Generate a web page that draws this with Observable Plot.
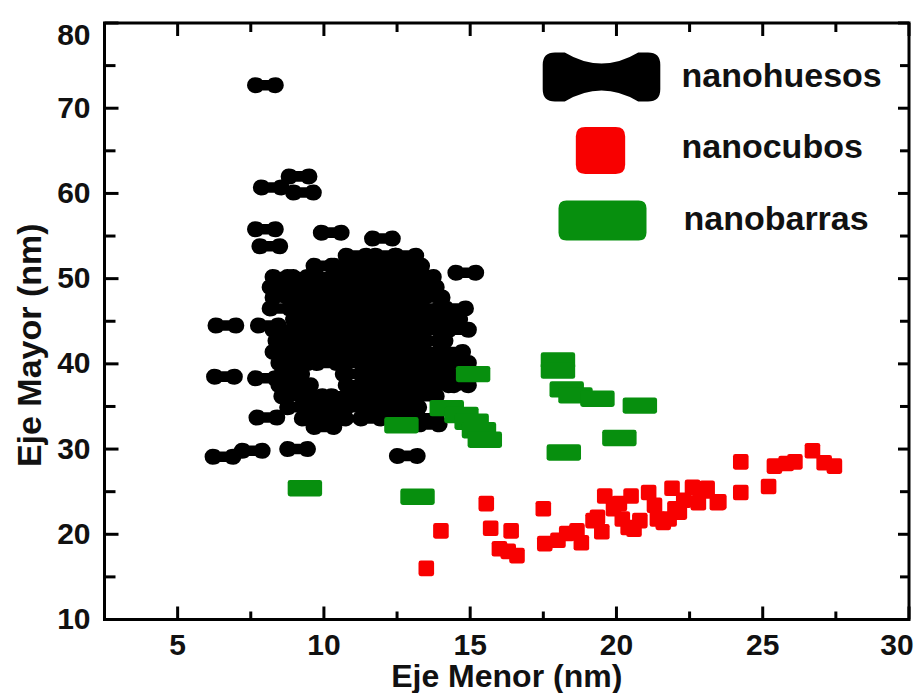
<!DOCTYPE html>
<html>
<head>
<meta charset="utf-8">
<script src="https://cdn.jsdelivr.net/npm/d3@7"></script>
<script src="https://cdn.jsdelivr.net/npm/@observablehq/plot@0.6"></script>
<style>
  html, body { margin: 0; padding: 0; background: #fff; }
  #chart { width: 914px; height: 693px; }
</style>
</head>
<body>
<div id="chart"></div>
<script>
// ---- Data ----
const xLabel = "Eje Menor (nm)";
const yLabel = "Eje Mayor (nm)";
const xMajorTicks = [5, 10, 15, 20, 25, 30];
const xMinorTicks = [7.5, 12.5, 17.5, 22.5, 27.5];
const yMajorTicks = [10, 20, 30, 40, 50, 60, 70, 80];
const yMinorTicks = [15, 25, 35, 45, 55, 65, 75];
const seriesNames = ["nanohuesos", "nanocubos", "nanobarras"];

// nanohuesos (black bones): [eje menor, eje mayor]
const nanohuesos = [
  [8.0, 72.7], [9.15, 62.0], [8.2, 60.7], [9.3, 60.1],
  [8.0, 55.8], [8.15, 53.8], [10.25, 55.4], [12.0, 54.7], [14.85, 50.7],
  [6.65, 44.5], [8.1, 44.5], [6.6, 38.5], [8.0, 38.3], [8.05, 33.7],
  [6.55, 29.1], [7.55, 29.8], [9.1, 30.0], [12.85, 29.2],
  // dense cluster
  [11.1, 52.7], [12.1, 52.7], [12.8, 52.7],
  [10.0, 51.5], [10.6, 51.5], [11.6, 51.5], [12.6, 51.5], [13.0, 51.5],
  [8.6, 50.2], [9.1, 50.2], [10.1, 50.2], [11.1, 50.2], [12.1, 50.2], [13.1, 50.2], [13.4, 50.2],
  [8.5, 49.0], [9.6, 49.0], [10.6, 49.0], [11.6, 49.0], [12.6, 49.0], [13.5, 49.0],
  [8.6, 47.8], [9.1, 47.8], [10.1, 47.8], [11.1, 47.8], [12.1, 47.8], [13.1, 47.8], [13.7, 47.8],
  [8.5, 46.5], [9.6, 46.5], [10.6, 46.5], [11.6, 46.5], [12.6, 46.5], [13.6, 46.5], [14.5, 46.5],
  [9.3, 45.2], [10.1, 45.2], [11.1, 45.2], [12.1, 45.2], [13.1, 45.2], [14.1, 45.2], [14.3, 45.2],
  [8.6, 44.0], [9.6, 44.0], [10.6, 44.0], [11.6, 44.0], [12.6, 44.0], [13.6, 44.0], [14.6, 44.0],
  [8.7, 42.7], [9.1, 42.7], [10.1, 42.7], [11.1, 42.7], [12.1, 42.7], [13.1, 42.7], [13.8, 42.7],
  [8.6, 41.4], [9.6, 41.4], [10.6, 41.4], [11.6, 41.4], [12.6, 41.4], [13.6, 41.4], [14.4, 41.4],
  [8.8, 40.1], [9.1, 40.1], [10.1, 40.1], [11.1, 40.1], [12.1, 40.1], [13.1, 40.1], [14.1, 40.1], [14.6, 40.1],
  [8.9, 38.8], [11.0, 38.8], [11.6, 38.8], [12.6, 38.8], [13.6, 38.8], [14.6, 38.8],
  [8.8, 37.5], [9.2, 37.5], [11.1, 37.5], [12.1, 37.5], [13.1, 37.5], [14.1, 37.5], [14.6, 37.5],
  [8.9, 36.2], [9.6, 36.2], [10.6, 36.2], [11.6, 36.2], [12.6, 36.2], [13.5, 36.2],
  [9.1, 34.9], [10.1, 34.9], [11.1, 34.9], [12.1, 34.9], [12.9, 34.9],
  [9.6, 33.6], [10.4, 33.6], [11.6, 33.6], [12.6, 33.6], [13.5, 33.6],
  [10.0, 32.6], [13.6, 32.9]
];

// nanocubos (red squares)
const nanocubos = [
  [13.5, 16.0], [14.0, 20.4], [15.55, 23.6], [17.5, 23.0],
  [15.7, 20.7], [16.4, 20.4], [16.0, 18.3], [16.3, 18.0], [16.6, 17.5],
  [17.55, 18.9], [18.0, 19.3], [18.3, 20.1], [18.65, 20.4], [18.8, 19.0], [19.2, 21.6],
  [19.35, 22.0], [19.6, 24.5], [19.5, 20.3], [20.1, 23.6], [20.4, 20.8], [20.5, 24.5],
  [21.1, 24.9], [21.4, 21.8], [21.9, 25.4], [22.0, 23.0], [20.8, 21.6], [21.3, 23.4],
  [21.6, 21.4], [20.2, 21.8], [19.9, 23.0], [22.3, 24.0], [22.6, 25.5], [22.8, 23.7],
  [23.1, 25.4], [23.45, 23.7], [21.8, 21.8], [22.15, 22.6], [20.6, 20.6], [23.0, 25.1],
  [23.5, 23.8], [24.25, 24.9], [24.25, 28.5], [25.2, 25.6], [25.4, 28.0], [25.8, 28.3],
  [26.1, 28.5], [26.7, 29.8], [27.1, 28.4], [27.45, 28.0]
];

// nanobarras (green rods)
const nanobarras = [
  [9.35, 25.4], [13.2, 24.4], [12.65, 32.8], [14.2, 34.8], [14.7, 34.0], [15.05, 33.2],
  [15.3, 32.2], [15.5, 31.1], [15.1, 38.8], [18.0, 40.4], [18.0, 39.2], [18.3, 37.0],
  [18.6, 36.3], [19.35, 35.9], [20.8, 35.1], [20.1, 31.3], [18.2, 29.6]
];

// ---- Custom symbols ----
function roundRectSymbol(aspect, cornerFrac) {
  return {
    draw(ctx, size) {
      const h = Math.sqrt(size / Math.PI), w = h * aspect, c = h * cornerFrac;
      ctx.moveTo(-w + c, -h);
      ctx.lineTo(w - c, -h);
      ctx.quadraticCurveTo(w, -h, w, -h + c);
      ctx.lineTo(w, h - c);
      ctx.quadraticCurveTo(w, h, w - c, h);
      ctx.lineTo(-w + c, h);
      ctx.quadraticCurveTo(-w, h, -w, h - c);
      ctx.lineTo(-w, -h + c);
      ctx.quadraticCurveTo(-w, -h, -w + c, -h);
      ctx.closePath();
    }
  };
}
function boneSymbol(aspect, dip) {
  return {
    draw(ctx, size) {
      const h = Math.sqrt(size / Math.PI), w = h * aspect, c = 0.5 * h, e = 0.9 * h, cy = h * dip;
      ctx.moveTo(-w + c, -h);
      ctx.lineTo(-w + e, -h);
      ctx.quadraticCurveTo(0, -cy, w - e, -h);
      ctx.lineTo(w - c, -h);
      ctx.quadraticCurveTo(w, -h, w, -h + c);
      ctx.lineTo(w, h - c);
      ctx.quadraticCurveTo(w, h, w - c, h);
      ctx.lineTo(w - e, h);
      ctx.quadraticCurveTo(0, cy, -w + e, h);
      ctx.lineTo(-w + c, h);
      ctx.quadraticCurveTo(-w, h, -w, h - c);
      ctx.lineTo(-w, -h + c);
      ctx.quadraticCurveTo(-w, -h, -w + c, -h);
      ctx.closePath();
    }
  };
}
function dumbbellSymbol(aspect, bar) {
  return {
    draw(ctx, size) {
      const h = Math.sqrt(size / Math.PI), w = h * aspect, b = h * bar;
      const xl = -w + h, xr = w - h;
      ctx.moveTo(xl, -h);
      ctx.quadraticCurveTo(xl + 0.7 * h, -h, xl + 0.9 * h, -b);
      ctx.lineTo(xr - 0.9 * h, -b);
      ctx.quadraticCurveTo(xr - 0.7 * h, -h, xr, -h);
      ctx.arc(xr, 0, h, -Math.PI / 2, Math.PI / 2);
      ctx.quadraticCurveTo(xr - 0.7 * h, h, xr - 0.9 * h, b);
      ctx.lineTo(xl + 0.9 * h, b);
      ctx.quadraticCurveTo(xl + 0.7 * h, h, xl, h);
      ctx.arc(xl, 0, h, Math.PI / 2, 3 * Math.PI / 2);
      ctx.closePath();
    }
  };
}
// filled tick-mark symbol: a rectangle from (x1,y1) to (x2,y2) relative to the anchor point
function tickSymbol(x1, y1, x2, y2) {
  return {
    draw(ctx) {
      ctx.moveTo(x1, y1); ctx.lineTo(x2, y1); ctx.lineTo(x2, y2); ctx.lineTo(x1, y2); ctx.closePath();
    }
  };
}

const colors = {nanohuesos: "#000000", nanocubos: "#f80000", nanobarras: "#078f0e"};
const boneData = dumbbellSymbol(2.3, 0.66);
const boneLegend = boneSymbol(2.4, 0.1);
const cube = roundRectSymbol(1.0, 0.3);
const cubeLegend = roundRectSymbol(1.05, 0.4);
const rod = roundRectSymbol(2.1, 0.3);
const rodLegend = roundRectSymbol(2.2, 0.4);

// ---- Layout ----
const W = 914, H = 693;
const mL = 104, mR = 5.5, mT = 22.5, mB = 74;
const font = "'Liberation Sans', Arial, Helvetica, sans-serif";

const tickFont = {fontSize: 30, fontWeight: "bold", fill: "#111"};
const tk = (data, channel, anchor, sym) =>
  Plot.dot(data, {[channel]: d => d, frameAnchor: anchor, symbol: sym, r: 1, fill: "#000", stroke: "none"});

const chart = Plot.plot({
  width: W, height: H,
  marginLeft: mL, marginRight: mR, marginTop: mT, marginBottom: mB,
  x: {domain: [2.5, 30], axis: null},
  y: {domain: [10, 80], axis: null},
  style: {fontFamily: font, background: "#fff", overflow: "visible"},
  marks: [
    // data
    Plot.dot(nanohuesos, {x: d => d[0], y: d => d[1], symbol: boneData, r: 8, fill: colors.nanohuesos, stroke: "none"}),
    Plot.dot(nanocubos, {x: d => d[0], y: d => d[1], symbol: cube, r: 7.8, fill: colors.nanocubos, stroke: "none"}),
    Plot.dot(nanobarras, {x: d => d[0], y: d => d[1], symbol: rod, r: 8.2, fill: colors.nanobarras, stroke: "none"}),
    // inward ticks (filled), on all four sides
    tk(xMajorTicks, "x", "bottom", tickSymbol(-1.5, -13, 1.5, 0)),
    tk(xMinorTicks, "x", "bottom", tickSymbol(-1.5, -8, 1.5, 0)),
    tk(xMajorTicks, "x", "top", tickSymbol(-1.5, 0, 1.5, 13)),
    tk(xMinorTicks, "x", "top", tickSymbol(-1.5, 0, 1.5, 9)),
    tk(yMajorTicks, "y", "left", tickSymbol(0, -1.5, 14, 1.5)),
    tk(yMinorTicks, "y", "left", tickSymbol(0, -1.5, 11, 1.5)),
    tk(yMajorTicks, "y", "right", tickSymbol(-11, -1.5, 0, 1.5)),
    tk(yMinorTicks, "y", "right", tickSymbol(-9, -1.5, 0, 1.5)),
    Plot.frame({stroke: "#000", strokeWidth: 3}),
    // tick labels
    Plot.text(xMajorTicks, {filter: d => d < 30, x: d => d, text: d => String(d), frameAnchor: "bottom", dy: 26,
      textAnchor: "middle", lineAnchor: "middle", ...tickFont}),
    Plot.text(xMajorTicks, {filter: d => d === 30, x: d => d, text: d => String(d), frameAnchor: "bottom", dy: 26, dx: -12,
      textAnchor: "middle", lineAnchor: "middle", ...tickFont}),
    Plot.text(yMajorTicks, {filter: d => d < 80, y: d => d, text: d => String(d), frameAnchor: "left", dx: -14,
      textAnchor: "end", lineAnchor: "middle", ...tickFont}),
    Plot.text(yMajorTicks, {filter: d => d === 80, y: d => d, text: d => String(d), frameAnchor: "left", dx: -14, dy: 12,
      textAnchor: "end", lineAnchor: "middle", ...tickFont}),
    // axis titles
    Plot.text([xLabel], {text: d => d, frameAnchor: "bottom", dy: 57, textAnchor: "middle",
      lineAnchor: "middle", fontSize: 32, fontWeight: "bold", fill: "#111"}),
    Plot.text([yLabel], {text: d => d, frameAnchor: "left", dx: -74, dy: 24, rotate: -90,
      textAnchor: "middle", lineAnchor: "middle", fontSize: 34, fontWeight: "bold", fill: "#111"}),
    // legend
    Plot.dot([seriesNames[0]], {frameAnchor: "top-left", dx: 497, dy: 54, symbol: boneLegend, r: 24.5, fill: colors.nanohuesos, stroke: "none"}),
    Plot.dot([seriesNames[1]], {frameAnchor: "top-left", dx: 496, dy: 127.5, symbol: cubeLegend, r: 23.5, fill: colors.nanocubos, stroke: "none"}),
    Plot.dot([seriesNames[2]], {frameAnchor: "top-left", dx: 498, dy: 197.5, symbol: rodLegend, r: 20, fill: colors.nanobarras, stroke: "none"}),
    Plot.text([seriesNames[0]], {text: d => d, frameAnchor: "top-left", dx: 577, dy: 53.5, textAnchor: "start", lineAnchor: "middle", fontSize: 34, fontWeight: "bold", fill: "#111"}),
    Plot.text([seriesNames[1]], {text: d => d, frameAnchor: "top-left", dx: 577, dy: 124.5, textAnchor: "start", lineAnchor: "middle", fontSize: 34, fontWeight: "bold", fill: "#111"}),
    Plot.text([seriesNames[2]], {text: d => d, frameAnchor: "top-left", dx: 579, dy: 196.5, textAnchor: "start", lineAnchor: "middle", fontSize: 34, fontWeight: "bold", fill: "#111"})
  ]
});
document.getElementById("chart").appendChild(chart);
</script>
</body>
</html>
